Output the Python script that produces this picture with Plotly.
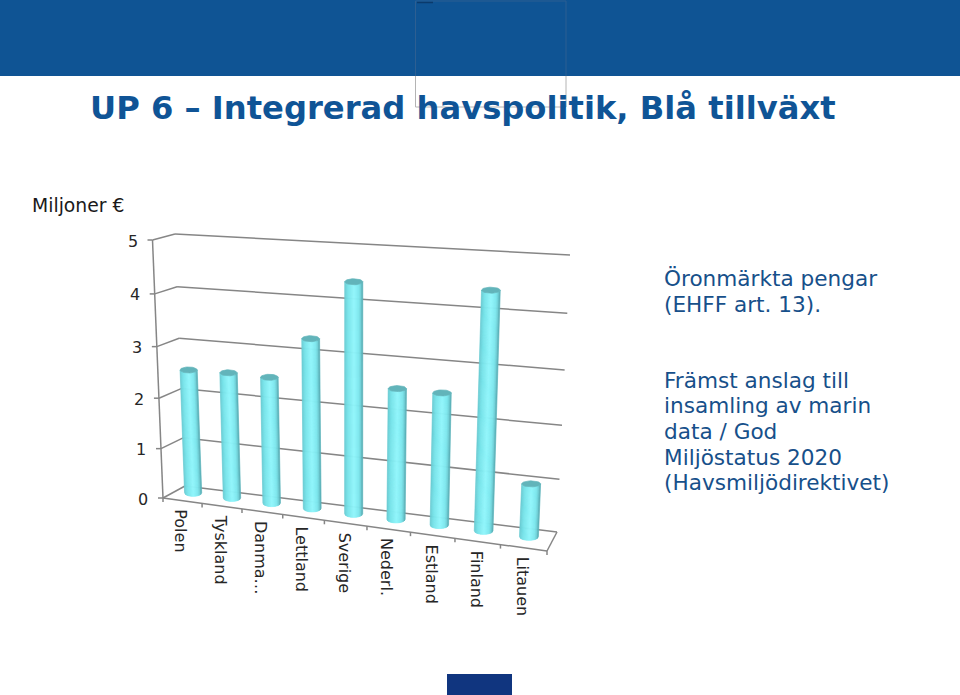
import numpy as np
import plotly.graph_objects as go

categories = ["Polen", "Tyskland", "Danma…", "Lettland", "Sverige", "Nederl.", "Estland", "Finland", "Litauen"]
values = [2.50, 2.52, 2.51, 3.31, 4.41, 2.53, 2.53, 4.43, 1.03]
axis_ticks = [0, 1, 2, 3, 4, 5]
title_text = "UP 6 – Integrerad havspolitik, Blå tillväxt"
unit_text = "Miljoner €"
note_one = ["Öronmärkta pengar", "(EHFF art. 13)."]
note_two = ["Främst anslag till", "insamling av marin", "data / God", "Miljöstatus 2020", "(Havsmiljödirektivet)"]

VMAX = 5.0
FRONT = [(163, 498), (547, 551), (559.5, 268), (152.5, 240)]
BACK = [(185, 486), (557, 532), (570, 255), (175, 234)]
MID = [tuple((a + b) / 2 for a, b in zip(f, k)) for f, k in zip(FRONT, BACK)]


def homography(q):
    (x0, y0), (x1, y1), (x2, y2), (x3, y3) = q
    dx1, dx2, sx = x1 - x2, x3 - x2, x0 - x1 + x2 - x3
    dy1, dy2, sy = y1 - y2, y3 - y2, y0 - y1 + y2 - y3
    den = dx1 * dy2 - dx2 * dy1
    g = (sx * dy2 - dx2 * sy) / den
    h = (dx1 * sy - sx * dy1) / den
    a, b, c = x1 - x0 + g * x1, x3 - x0 + h * x3, x0
    d, e, f = y1 - y0 + g * y1, y3 - y0 + h * y3, y0

    def project(u, value):
        v = value / VMAX
        w = g * u + h * v + 1
        return (a * u + b * v + c) / w, (d * u + e * v + f) / w

    return project


front, back, mid = homography(FRONT), homography(BACK), homography(MID)
fig = go.Figure()

# frame lines
gx, gy = [], []


def seg(p, q):
    gx.extend([p[0], q[0], None])
    gy.extend([p[1], q[1], None])


for t in axis_ticks:
    seg(back(0, t), back(1, t))
    seg(front(0, t), back(0, t))
    fp = front(0, t)
    seg(fp, (fp[0] - 5, fp[1]))
seg(front(0, 0), front(0, VMAX))
seg(front(0, 0), front(1, 0))
seg(front(1, 0), back(1, 0))
for i in range(len(categories) + 1):
    p = front(i / len(categories), 0)
    seg(p, (p[0], p[1] + 4))
fig.add_trace(go.Scatter(x=gx, y=gy, mode="lines", line=dict(color="#868686", width=1.5), hoverinfo="skip"))

# cylinder bodies: one trace per shade across the cylinder width
STOPS = [(-1.0, (104, 200, 208)), (-0.65, (118, 226, 232)), (0.05, (146, 246, 252)),
         (0.6, (126, 232, 238)), (0.85, (108, 205, 212)), (1.0, (84, 165, 172))]
N = 18
edges = np.linspace(-1, 1, N + 1)
n = len(categories)
for s in range(N):
    tc = (edges[s] + edges[s + 1]) / 2
    rgb = [np.interp(tc, [p[0] for p in STOPS], [p[1][k] for p in STOPS]) for k in range(3)]
    col = "rgb(%d,%d,%d)" % tuple(rgb)
    xs, ys = [], []
    for i, val in enumerate(values):
        u = (i + 0.5) / n
        bx, by = mid(u, 0)
        by -= 1.7
        tx, ty = mid(u, val)
        hw = 8.5 + u
        t0, t1 = edges[s], edges[s + 1]
        a0, a1 = np.sqrt(max(0, 1 - t0 ** 2)), np.sqrt(max(0, 1 - t1 ** 2))
        xs += [bx + t0 * hw, bx + t1 * hw, tx + t1 * hw, tx + t0 * hw, bx + t0 * hw, None]
        ys += [by + 3.5 * a0, by + 3.5 * a1, ty + 3 * a1, ty + 3 * a0, by + 3.5 * a0, None]
    fig.add_trace(go.Scatter(x=xs, y=ys, mode="lines", fill="toself", fillcolor=col,
                             line=dict(color=col, width=0.7), hoverinfo="skip"))

# cylinder caps
cx, cy = [], []
ang = np.linspace(0, 2 * np.pi, 40)
for i, val in enumerate(values):
    u = (i + 0.5) / n
    tx, ty = mid(u, val)
    hw = 8.5 + u
    cx += list(tx + hw * np.cos(ang)) + [None]
    cy += list(ty + 3 * np.sin(ang)) + [None]
fig.add_trace(go.Scatter(x=cx, y=cy, mode="lines", fill="toself", fillcolor="#62b4ba",
                         line=dict(color="#62b4ba", width=0.7), hoverinfo="skip"))

ann = []


def text(x, y, s, size, color="#262626", family="DejaVu Sans", xa="left", ya="middle", angle=0, bold=False):
    ann.append(dict(x=x, y=y, text=("<b>%s</b>" % s) if bold else s, showarrow=False, xanchor=xa, yanchor=ya,
                    font=dict(size=size, color=color, family=family), textangle=angle,
                    xref="x", yref="y", borderpad=0, borderwidth=0))


text(90, 108, title_text, 32.2, color="#0f5496", bold=True)
text(32, 205, unit_text, 18.8, color="#1a1a1a")
for t in axis_ticks:
    p = front(0, t)
    text(p[0] - 20, p[1] + 1, str(t), 16, xa="center")
for i, c in enumerate(categories):
    p = front((i + 0.5) / n, 0)
    text(p[0] - 1.5, p[1] + 9, c, 16, xa="center", ya="top", angle=90)
for j, line in enumerate(note_one):
    text(664, 278 + j * 26, line, 21.6, color="#17508a")
for j, line in enumerate(note_two):
    text(664, 380 + j * 25.7, line, 21.6, color="#17508a")

shapes = [
    dict(type="rect", x0=0, x1=960, y0=0, y1=76, fillcolor="#0f5494", line=dict(width=0), layer="below"),
    dict(type="path", path="M415.5,76 L415.5,1 L566,1 L566,76", line=dict(color="#2d5f92", width=1), layer="below"),
    dict(type="path", path="M417,2.5 L433,2.5", line=dict(color="#0a3a6c", width=1.5), layer="below"),
    dict(type="path", path="M415.5,76 L415.5,107 L566,107 L566,76", line=dict(color="#b4b4b4", width=1), layer="below"),
    dict(type="rect", x0=447, x1=512, y0=674, y1=695, fillcolor="#10357f", line=dict(width=0), layer="below"),
]

fig.update_layout(
    width=960, height=695, margin=dict(l=0, r=0, t=0, b=0), showlegend=False,
    paper_bgcolor="white", plot_bgcolor="white", annotations=ann, shapes=shapes, hovermode=False,
    xaxis=dict(range=[0, 960], visible=False, fixedrange=True),
    yaxis=dict(range=[695, 0], visible=False, fixedrange=True),
)
fig.write_html("out.html", config=dict(displayModeBar=False),
               post_script="document.body.style.margin='0';document.body.style.overflow='hidden';")
